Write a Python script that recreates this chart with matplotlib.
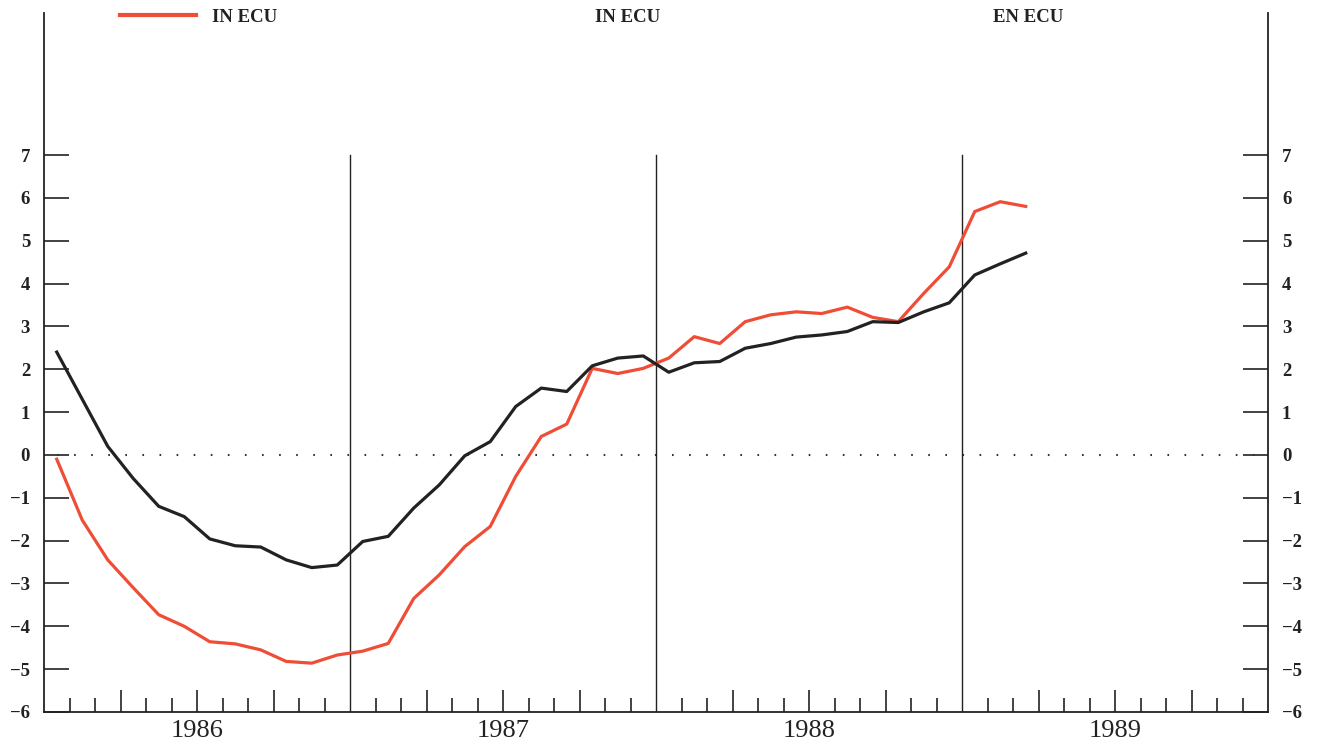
import matplotlib
matplotlib.use("Agg")
import matplotlib.pyplot as plt
import numpy as np

# Monthly values, Jan 1986 .. Mar 1989
black_vals = [2.40, 1.30, 0.20, -0.55, -1.20, -1.44, -1.96, -2.12, -2.15, -2.45, -2.63, -2.57,
              -2.02, -1.90, -1.24, -0.70, -0.02, 0.31, 1.13, 1.56, 1.48, 2.08, 2.26, 2.31,
              1.93, 2.15, 2.18, 2.49, 2.60, 2.75, 2.80, 2.88, 3.11, 3.09, 3.34, 3.55,
              4.20, 4.46, 4.71]
red_vals = [-0.10, -1.52, -2.45, -3.10, -3.73, -4.00, -4.36, -4.41, -4.55, -4.82, -4.86, -4.67,
            -4.58, -4.40, -3.35, -2.80, -2.14, -1.67, -0.50, 0.43, 0.72, 2.02, 1.90, 2.02,
            2.26, 2.76, 2.60, 3.11, 3.27, 3.34, 3.30, 3.45, 3.21, 3.11, 3.77, 4.39,
            5.68, 5.91, 5.80]
years = ["1986", "1987", "1988", "1989"]
yticks = list(range(-6, 8))
top_labels = ["IN ECU", "IN ECU", "EN ECU"]

RED = "#ef4d36"
BLK = "#222222"
SERIF = ["Liberation Serif", "DejaVu Serif"]

W, H = 1317, 744
fig = plt.figure(figsize=(W / 100, H / 100), dpi=100)
fig.patch.set_facecolor("white")

def px(x0, y0, x1, y1):
    return [x0 / W, 1 - y1 / H, (x1 - x0) / W, (y1 - y0) / H]

ax = fig.add_axes(px(44, 13, 1268, 712))
ymin, ymax = -6, 7
ytop = 7 + (155 - 13) / ((712 - 155) / 13)
ax.set_xlim(0, 48)
ax.set_ylim(ymin, ytop)

x = np.arange(len(black_vals)) + 0.5
ax.plot(x, red_vals, color=RED, lw=2.3, solid_joinstyle="round", zorder=3)
ax.plot(x, black_vals, color=BLK, lw=2.3, solid_joinstyle="round", zorder=4)

# zero dotted line
ax.plot([0.5, 47.5], [0, 0], color="#333333", lw=1.5, dashes=(0.8, 7.4), zorder=2)

# year separator lines
for k in range(1, len(years)):
    ax.plot([12 * k, 12 * k], [ymin, ymax], color=BLK, lw=1.0, zorder=2)

ax.spines["top"].set_visible(False)
for s in ["left", "right", "bottom"]:
    ax.spines[s].set_linewidth(1.3)
    ax.spines[s].set_color(BLK)

# y ticks both sides
ax.set_yticks(yticks)
ax.set_yticklabels([("\u2212" + str(-v)) if v < 0 else str(v) for v in yticks])
ax.tick_params(axis="y", which="both", direction="in", length=18, width=1.2,
               left=True, right=True, labelleft=True, labelright=True, pad=10,
               labelsize=13.5, colors=BLK)
for lab in ax.get_yticklabels():
    lab.set_family(SERIF)
    lab.set_fontweight("bold")

# x ticks: month boundaries, quarters longer
month_b = [m for m in range(1, 48) if m % 12 != 0]
quarters = [m for m in month_b if m % 3 == 0]
minors = [m for m in month_b if m % 3 != 0]
ax.set_xticks(quarters)
ax.set_xticklabels([""] * len(quarters))
ax.set_xticks(minors, minor=True)
ax.tick_params(axis="x", which="major", direction="in", length=16, width=1.2, colors=BLK)
ax.tick_params(axis="x", which="minor", direction="in", length=10, width=1.2, colors=BLK)

for k, yr in enumerate(years):
    ax.text(12 * k + 6, -6.45, yr, ha="center", va="center", fontsize=19,
            family=SERIF, color=BLK)

# header texts
for xpos, lab in zip([212, 595, 993], top_labels):
    fig.text(xpos / W, 1 - 18 / H, lab, ha="left", va="center", fontsize=13.5,
             family=SERIF, fontweight="bold", color=BLK)
fig.add_artist(plt.Line2D([120 / W, 196 / W], [1 - 15 / H, 1 - 15 / H],
                          color=RED, lw=3, transform=fig.transFigure))

fig.savefig("out.png", dpi=100, facecolor="white")
